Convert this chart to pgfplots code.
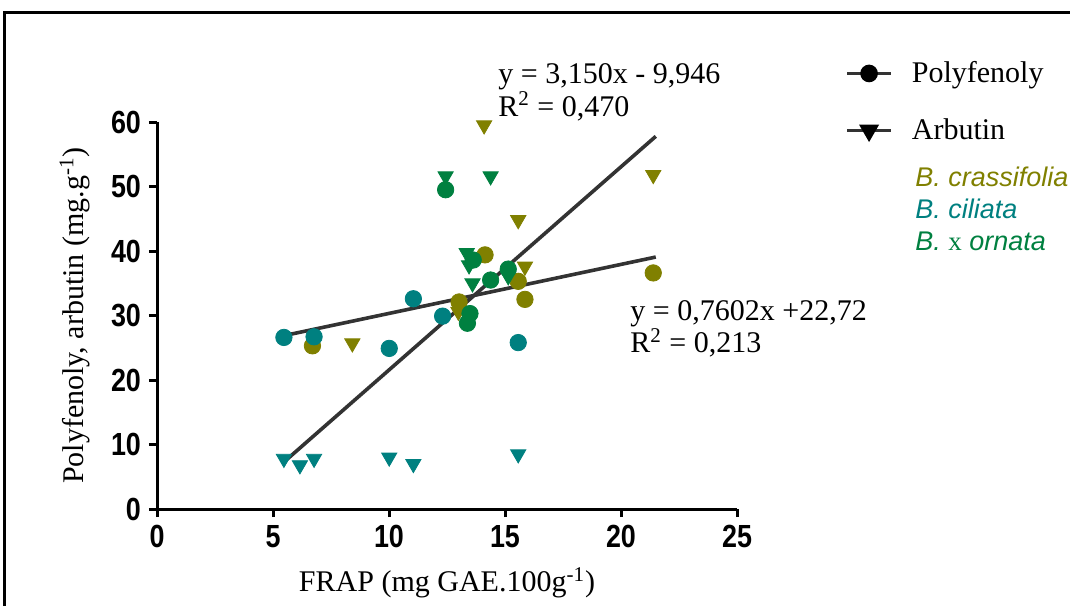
\documentclass[border=0pt]{standalone}
\usepackage{pgfplots}
\pgfplotsset{compat=1.18}
\usepackage{fontspec}
\setmainfont{Liberation Serif}
\newfontfamily\arial{Liberation Sans}
\definecolor{cOlive}{RGB}{128,128,0}
\definecolor{cTeal}{RGB}{0,128,128}
\definecolor{cGreen}{RGB}{0,128,64}
\definecolor{cLine}{RGB}{51,51,51}
\begin{document}
\begin{tikzpicture}
\path[use as bounding box] (0,0) rectangle (535pt,303pt);
\begin{axis}[
  at={(78.5pt,48.5pt)}, anchor=south west,
  scale only axis, width=290pt, height=193.5pt,
  xmin=0, xmax=25, ymin=0, ymax=60,
  xtick={0,5,10,15,20,25}, ytick={0,10,20,30,40,50,60},
  axis lines=left,
  axis line style={-, line width=1.5pt, black},
  tick style={line width=1.5pt, black},
  major tick length=4pt, tick align=outside,
  /pgf/number format/assume math mode=true,
  xticklabel={\scalebox{0.84}[1]{\pgfmathprintnumber{\tick}}},
  yticklabel={\scalebox{0.84}[1]{\pgfmathprintnumber{\tick}}},
  ticklabel style={font=\arial\bfseries\fontsize{16}{17}\selectfont},
  xticklabel style={yshift=-0.5pt},
  yticklabel style={xshift=-0.5pt},
  xlabel={FRAP (mg GAE.100g\textsuperscript{-1})},
  ylabel={Polyfenoly, arbutin (mg.g\textsuperscript{-1})},
  label style={font=\fontsize{15}{18}\selectfont},
  xlabel style={at={(axis description cs:0.5,-0.191)}, anchor=center},
  ylabel style={at={(axis description cs:-0.1414,0.5)}, anchor=center},
  clip=false,
  legend style={at={(axis description cs:1.186,1.168)}, anchor=north west,
    draw=none, fill=none, font=\fontsize{15}{18}\selectfont, row sep=12.5pt,
    inner sep=0pt},
  legend cell align=left,
  legend image code/.code={\draw[#1, mark repeat=2, mark phase=2] plot coordinates {(0pt,0pt) (11pt,0pt) (22pt,0pt)};},
]
% legend entries
\addlegendimage{cLine, line width=1.8pt, mark=*, mark size=3.5pt, mark options={solid, fill=black, draw=black}}
\addlegendentry{\hspace{7.5pt}Polyfenoly}
\addlegendimage{cLine, line width=1.8pt, mark=triangle*, mark size=4pt, mark options={solid, rotate=180, fill=black, draw=black}}
\addlegendentry{\hspace{7.5pt}Arbutin}
% regression lines
\addplot[cLine, line width=1.8pt, forget plot] coordinates {(5.5,26.901) (21.5,39.064)};
\addplot[cLine, line width=1.8pt, forget plot] coordinates {(5.5,7.379) (21.5,57.779)};
% B. crassifolia
\addplot[only marks, mark=*, mark size=4.1pt, color=cOlive, forget plot] coordinates {
 (6.70,25.3) (13.02,32.1) (14.14,39.4) (15.57,35.3) (15.86,32.5) (21.39,36.6)};
\addplot[only marks, mark=triangle*, mark size=4.4pt, mark options={rotate=180}, color=cOlive, forget plot] coordinates {
 (8.42,25.7) (12.99,30.6) (14.10,59.5) (15.57,44.8) (15.86,37.6) (21.39,51.8)};
% B. ciliata
\addplot[only marks, mark=*, mark size=4.1pt, color=cTeal, forget plot] coordinates {
 (5.47,26.6) (6.77,26.7) (10.01,24.9) (11.05,32.6) (12.31,29.9) (15.57,25.8)};
\addplot[only marks, mark=triangle*, mark size=4.4pt, mark options={rotate=180}, color=cTeal, forget plot] coordinates {
 (5.47,7.8) (6.16,6.8) (6.77,7.8) (10.01,8.0) (11.05,7.0) (15.57,8.5)};
% B. x ornata
\addplot[only marks, mark=*, mark size=4.1pt, color=cGreen, forget plot] coordinates {
 (12.44,49.5) (13.63,38.6) (14.38,35.5) (15.14,37.2) (13.49,30.3) (13.38,28.8)};
\addplot[only marks, mark=triangle*, mark size=4.4pt, mark options={rotate=180}, color=cGreen, forget plot] coordinates {
 (12.44,51.6) (14.38,51.6) (13.35,39.7) (13.45,37.8) (13.60,35.0) (15.14,36.1)};
% annotations
\node[anchor=base west, font=\fontsize{15}{18}\selectfont, inner sep=0pt] at (axis cs:14.70,66.0) {y = 3,150x - 9,946};
\node[anchor=base west, font=\fontsize{15}{18}\selectfont, inner sep=0pt] at (axis cs:14.70,60.9) {R\textsuperscript{2} = 0,470};
\node[anchor=base west, font=\fontsize{15}{18}\selectfont, inner sep=0pt] at (axis cs:20.39,29.3) {y = 0,7602x +22,72};
\node[anchor=base west, font=\fontsize{15}{18}\selectfont, inner sep=0pt] at (axis cs:20.39,24.2) {R\textsuperscript{2} = 0,213};
\end{axis}
% species labels
\node[anchor=west, inner sep=0pt, font=\arial\itshape\fontsize{13.5}{16}\selectfont, text=cOlive] at (457.5pt,214.5pt) {B. crassifolia};
\node[anchor=west, inner sep=0pt, font=\arial\itshape\fontsize{13.5}{16}\selectfont, text=cTeal] at (457.5pt,198.5pt) {B. ciliata};
\node[anchor=west, inner sep=0pt, font=\arial\itshape\fontsize{13.5}{16}\selectfont, text=cGreen] at (457.5pt,182.5pt) {B.\ {\rmfamily\upshape x} ornata};
% frame
\draw[line width=1.5pt, black] (2pt,0pt) -- (2pt,296.5pt) -- (535pt,296.5pt);
\end{tikzpicture}
\end{document}
